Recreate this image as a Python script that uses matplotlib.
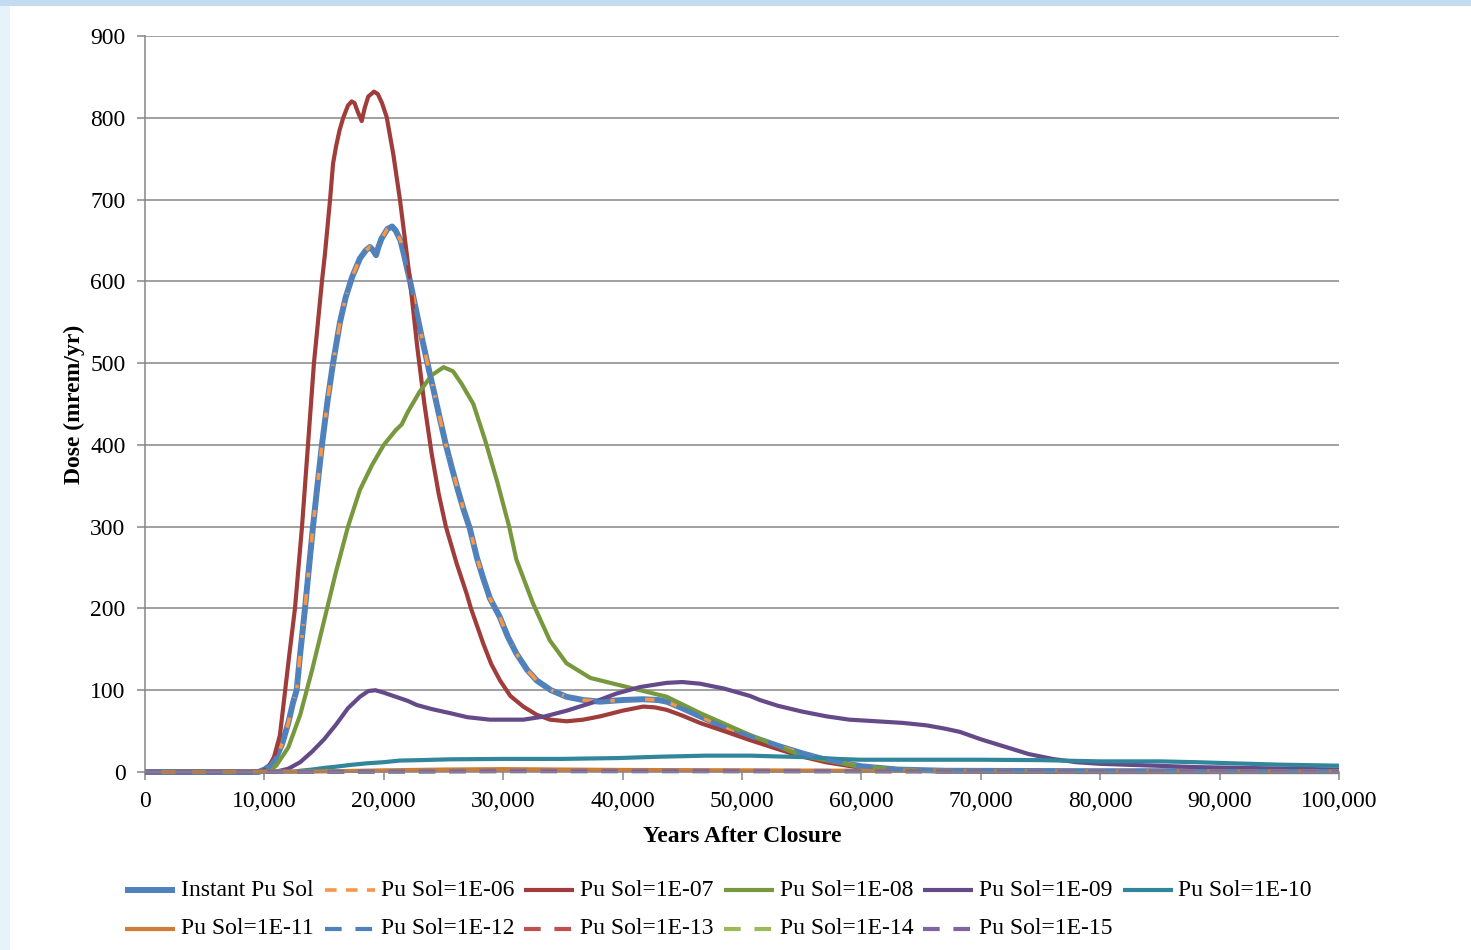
import matplotlib
matplotlib.use("Agg")
import matplotlib.pyplot as plt
from matplotlib.lines import Line2D
from matplotlib.patches import Rectangle
from matplotlib.ticker import FuncFormatter

# ---------------- data ----------------
labels = ["Instant Pu Sol", "Pu Sol=1E-06", "Pu Sol=1E-07", "Pu Sol=1E-08",
          "Pu Sol=1E-09", "Pu Sol=1E-10", "Pu Sol=1E-11", "Pu Sol=1E-12",
          "Pu Sol=1E-13", "Pu Sol=1E-14", "Pu Sol=1E-15"]

inst_x = [0, 9500, 10000, 10500, 11000, 11500, 12000, 12400, 12700, 13000, 13400, 13700,
          14070, 14400, 14820, 15300, 15750, 16330, 16800, 17340, 18000, 18500, 18840,
          19100, 19350, 19550, 19800, 20300, 20700, 21000, 21400, 21700, 22200, 22700,
          23200, 23700, 24200, 24700, 25200, 25700, 26200, 26700, 27200, 27800, 28300,
          28900, 29700, 30400, 31100, 32000, 32800, 34000, 35300, 36700, 38100, 40000,
          41700, 43000, 43700, 45000, 46500, 48000, 49300, 51000, 53000, 55000, 57000,
          60000, 63000, 67000, 80000, 100000]
inst_y = [0, 0, 3, 8, 18, 35, 60, 85, 100, 145, 200, 245,
          300, 345, 400, 455, 500, 550, 580, 605, 628, 638, 642,
          638, 632, 642, 652, 664, 667, 662, 650, 632, 600, 565,
          530, 497, 465, 432, 400, 372, 345, 320, 298, 262, 238,
          212, 190, 165, 145, 125, 112, 100, 92, 88, 86, 88,
          89, 88, 86, 78, 68, 58, 51, 42, 32, 23, 15,
          7, 3, 1.5, 1, 1]

sol06_x = inst_x
sol06_y = inst_y

sol07_x = [0, 9000, 9800, 10300, 10800, 11300, 11700, 12100, 12560, 13150, 13650, 14150,
           14820, 15075, 15500, 15750, 16000, 16300, 16600, 17000, 17310, 17550, 17800,
           18150, 18400, 18700, 19180, 19500, 19850, 20240, 20800, 21360, 21920, 22200,
           22800, 23400, 24000, 24600, 25200, 25700, 26100, 26940, 27300, 28330, 29000,
           29730, 30600, 31680, 32800, 33920, 35320, 36700, 38110, 40000, 41730, 42700,
           43690, 45000, 46480, 48500, 50670, 53000, 55000, 57000, 60000, 63000, 67000,
           100000]
sol07_y = [0, 0, 1, 5, 18, 45, 95, 145, 200, 300, 400, 500,
           600, 634, 700, 744, 765, 785, 800, 815, 820, 818, 808,
           796, 812, 826, 832, 829, 818, 801, 755, 699, 634, 600,
           520, 450, 390, 340, 300, 275, 255, 218, 200, 157, 132,
           112, 93, 80, 70, 64, 62, 64, 68, 75, 80, 79,
           76, 69, 60, 50, 39, 28, 19, 12, 5, 2, 1,
           1]

sol08_x = [0, 10000, 10500, 11000, 12000, 13000, 14000, 15000, 16000, 17000, 18000, 19000,
           20000, 21000, 21500, 22000, 23000, 24000, 25000, 25800, 26500, 27500, 28500,
           29500, 30500, 31100, 32500, 33900, 35300, 37300, 40900, 43700, 46500, 50700,
           55000, 60000, 65000, 70000, 100000]
sol08_y = [0, 0, 2, 8, 30, 70, 125, 185, 245, 300, 345, 375,
           400, 418, 425, 440, 465, 485, 495, 490, 475, 450, 405,
           355, 300, 260, 206, 161, 133, 115, 102, 92, 72, 45,
           20, 6, 2, 1, 1]

sol09_x = [0, 11000, 12000, 13000, 14000, 15000, 16000, 17000, 18000, 18700, 19300, 20000,
           21000, 22000, 22750, 24000, 25540, 27000, 28890, 31680, 33500, 35320, 37500,
           39500, 41500, 43690, 45000, 46480, 48500, 50670, 51500, 53000, 55000, 57090,
           59000, 61280, 63500, 65470, 67000, 68260, 70000, 72000, 74000, 76000, 78000,
           80000, 84000, 88000, 92000, 100000]
sol09_y = [0, 0.5, 4, 12, 25, 40, 58, 78, 92, 99, 100, 97,
           92, 87, 82, 77, 72, 67, 64, 64, 68, 75, 85,
           96, 104, 109, 110, 108, 102, 93, 88, 81, 74, 68,
           64, 62, 60, 57, 53, 49, 40, 31, 22, 16, 12,
           10, 8, 6, 5, 3]

sol10_x = [0, 12500, 13000, 14000, 15000, 16000, 17170, 18570, 20000, 21360, 23000, 25540,
           30000, 34760, 39500, 43130, 47000, 50670, 53000, 55700, 58000, 59880, 65000,
           70000, 75000, 79980, 85000, 88000, 91120, 95000, 100000]
sol10_y = [0, 0.5, 1.5, 3, 5, 6.5, 8.6, 10.6, 12, 14, 14.5, 15.5,
           16, 16, 17, 18.7, 20, 20, 19, 18, 16, 15, 15,
           15, 14.5, 13, 13, 12, 10.6, 9, 7.7]

sol11_x = [0, 14000, 20000, 25000, 30000, 35000, 40000, 50000, 60000, 80000, 100000]
sol11_y = [0, 0.5, 2, 3, 3.5, 3, 2.5, 2, 1.5, 1, 0.8]

sol12_x = inst_x
sol12_y = inst_y

sol13_x = [0, 15000, 30000, 45000, 70000, 100000]
sol13_y = [0, 0.5, 1.5, 1.5, 1, 0.8]

sol14_x = [0, 15000, 30000, 45000, 70000, 100000]
sol14_y = [0, 0.4, 1.2, 1.2, 0.9, 0.7]

sol15_x = [0, 15000, 30000, 45000, 70000, 100000]
sol15_y = [0, 0.3, 1.0, 1.0, 0.8, 0.6]

xticks = list(range(0, 100001, 10000))
yticks = list(range(0, 901, 100))

# ---------------- styles ----------------
series = [
    (inst_x, inst_y, dict(color="#4F81BD", lw=4.3, ls="-")),
    (sol06_x, sol06_y, dict(color="#F79646", lw=2.6, ls=(0, (3.2, 2.6)))),
    (sol07_x, sol07_y, dict(color="#A03C3A", lw=3.0, ls="-")),
    (sol08_x, sol08_y, dict(color="#77983C", lw=3.0, ls="-")),
    (sol09_x, sol09_y, dict(color="#654A8A", lw=3.0, ls="-")),
    (sol10_x, sol10_y, dict(color="#31869B", lw=3.0, ls="-")),
    (sol11_x, sol11_y, dict(color="#D07C35", lw=3.0, ls="-")),
    (sol12_x, sol12_y, dict(color="#4F81BD", lw=3.0, ls=(0, (4, 3.3)))),
    (sol13_x, sol13_y, dict(color="#C0504D", lw=3.0, ls=(0, (4, 3.3)))),
    (sol14_x, sol14_y, dict(color="#9BBB59", lw=3.0, ls=(0, (4, 3.3)))),
    (sol15_x, sol15_y, dict(color="#8064A2", lw=3.0, ls=(0, (4, 3.3)))),
]

plt.rcParams["font.family"] = ["Liberation Serif", "DejaVu Serif"]

W, H = 1471, 950
fig = plt.figure(figsize=(W / 100, H / 100), dpi=100)
fig.patch.set_facecolor("white")

# slide-like light blue border
fig.add_artist(Rectangle((0, 0), 10 / W, 1, transform=fig.transFigure,
                         facecolor="#e6f3fb", edgecolor="none", zorder=0))
fig.add_artist(Rectangle((0, 1 - 6 / H), 1, 6 / H, transform=fig.transFigure,
                         facecolor="#c3dcf1", edgecolor="none", zorder=0))

ax = fig.add_axes([145 / W, 1 - 772 / H, (1339 - 145) / W, (772 - 36) / H])
ax.set_facecolor("none")

for (x, y, st) in series:
    ax.plot(x, y, color=st["color"], lw=st["lw"], linestyle=st["ls"],
            solid_capstyle="butt", dash_capstyle="butt",
            solid_joinstyle="round", dash_joinstyle="round", clip_on=False)

ax.set_xlim(0, 100000)
ax.set_ylim(0, 900)
ax.set_xticks(xticks)
ax.set_yticks(yticks)
ax.xaxis.set_major_formatter(FuncFormatter(lambda v, p: f"{int(v):,}"))
ax.grid(axis="y", color="#868686", lw=1.1)
ax.set_axisbelow(True)
for s in ["top", "right"]:
    ax.spines[s].set_visible(False)
for s in ["left", "bottom"]:
    ax.spines[s].set_color("#868686")
    ax.spines[s].set_linewidth(1.1)
ax.tick_params(axis="both", colors="#868686", labelcolor="black", labelsize=17,
               length=6, width=1.1, direction="out")
ax.tick_params(axis="y", pad=8)
ax.tick_params(axis="x", pad=8)

ax.set_xlabel("Years After Closure", fontsize=17, fontweight="bold", labelpad=10)
ax.set_ylabel("Dose (mrem/yr)", fontsize=17, fontweight="bold", labelpad=4)

# manual legend (row-major, 6 columns)
for i, (lab, (_, _, st)) in enumerate(zip(labels, series)):
    row, col = divmod(i, 6)
    x0 = 125 + col * 199.5
    yc = 890 if row == 0 else 929
    fig.add_artist(Line2D([x0 / W, (x0 + 50) / W], [1 - yc / H, 1 - yc / H],
                          transform=fig.transFigure, color=st["color"],
                          lw=st["lw"], linestyle=st["ls"], solid_capstyle="butt",
                          dash_capstyle="butt"))
    fig.text((x0 + 56) / W, 1 - yc / H, lab, fontsize=17, va="center", ha="left")

fig.savefig("out.png", dpi=100, facecolor=fig.get_facecolor())
